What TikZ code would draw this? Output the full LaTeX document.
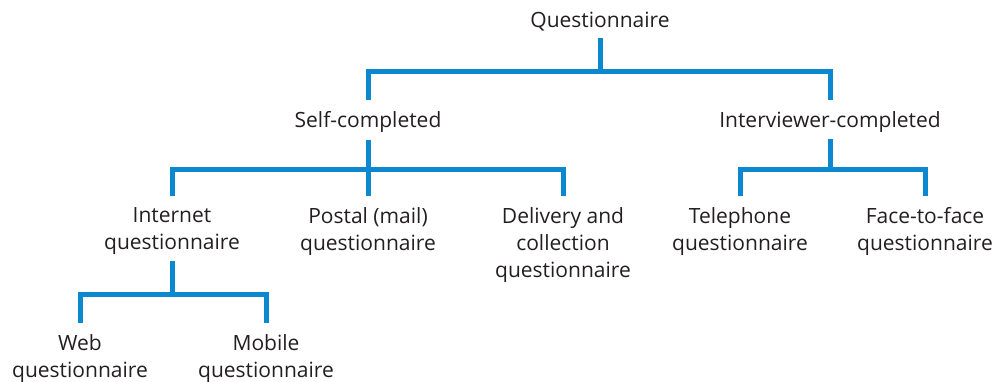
\documentclass[tikz,border=0pt]{standalone}
\usepackage{fontspec}
\setmainfont{Open Sans}
\usepackage{tikz}
\usetikzlibrary{calc}
\definecolor{qnBlue}{HTML}{0B88D0}
\definecolor{qnText}{HTML}{231F20}
\tikzset{
  qn/label/.style  = {anchor=north, align=center, inner sep=0pt, text=qnText,
                      font=\fontsize{21}{27}\selectfont},
  qn/branch/.style = {line width=5pt, draw=qnBlue, line join=miter, line cap=butt},
  qn/stem/.style   = {qn/branch, shorten <=7pt},
  qn/fork/.style   = {qn/branch, shorten <=11pt, shorten >=11pt},
  qn/trunk/.style  = {qn/branch, shorten <=7pt, shorten >=11pt},
}

\begin{document}
\begin{tikzpicture}[x=1pt, y=-1pt]
      \useasboundingbox (0,0) rectangle (999,382);
      % --- Column x-positions ---
      \def\xWeb      {80}
      \def\xInternet {172}
      \def\xMobile   {266}
      \def\xSelf     {368}
      \def\xDelivery {563}
      \def\xRoot     {600}
      \def\xPhone    {740}
      \def\xInter    {830}
      \def\xFace     {925}
      % --- Row tops ---
      \def\yRoot {12}
      \def\yMid  {111}
      \def\yLeaf {207}
      \def\ySub  {334}
      % --- Labels ---
      \node[qn/label] (root)     at (\xRoot,     \yRoot) {Questionnaire};
      \node[qn/label] (self)     at (\xSelf,     \yMid)  {Self-completed};
      \node[qn/label] (inter)    at (\xInter,    \yMid)  {Interviewer-completed};
      \node[qn/label] (internet) at (\xInternet, \yLeaf) {Internet\\questionnaire};
      \node[qn/label] (postal)   at (\xSelf,     \yLeaf) {Postal (mail)\\questionnaire};
      \node[qn/label] (delivery) at (\xDelivery, \yLeaf) {Delivery and\\collection\\questionnaire};
      \node[qn/label] (phone)    at (\xPhone,    \yLeaf) {Telephone\\questionnaire};
      \node[qn/label] (face)     at (\xFace,     \yLeaf) {Face-to-face\\questionnaire};
      \node[qn/label] (web)      at (\xWeb,      \ySub)  {Web\\questionnaire};
      \node[qn/label] (mobile)   at (\xMobile,   \ySub)  {Mobile\\questionnaire};
      % --- Bus levels (half way between parent and children) ---
      \coordinate (rootBus)     at ($(root.south)!0.5!(self.north)$);
      \coordinate (selfBus)     at ($(self.south)!0.5!(internet.north)$);
      \coordinate (interBus)    at ($(inter.south)!0.5!(phone.north)$);
      \coordinate (internetBus) at ($(internet.south)!0.5!(web.north)$);
      % --- Branches ---
      \draw[qn/stem]  (root.south) -- (root.south |- rootBus);
      \draw[qn/fork]  (self.north) |- (rootBus) -| (inter.north);
      \draw[qn/trunk] (self.south) -- (postal.north);
      \draw[qn/fork]  (internet.north) |- (selfBus) -| (delivery.north);
      \draw[qn/stem]  (inter.south) -- (inter.south |- interBus);
      \draw[qn/fork]  (phone.north) |- (interBus) -| (face.north);
      \draw[qn/stem]  (internet.south) -- (internet.south |- internetBus);
      \draw[qn/fork]  (web.north) |- (internetBus) -| (mobile.north);
\end{tikzpicture}
\end{document}
